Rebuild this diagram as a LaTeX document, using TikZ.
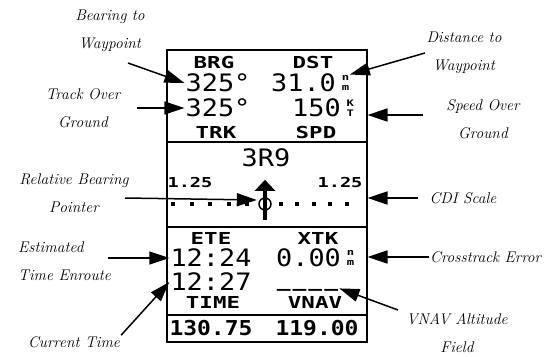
\documentclass[tikz,border=0pt]{standalone}
\usepackage{fontspec}
\newfontfamily\lcdface[FakeStretch=1.12]{DejaVu Sans Mono}
\newfontfamily\lcdwide[FakeStretch=1.36]{DejaVu Sans Mono}
\usetikzlibrary{arrows.meta,positioning}

\begin{document}
\begin{tikzpicture}[x=1pt,y=-1pt,
    lbl/.style={font=\itshape\fontsize{15.5}{28}\selectfont,align=center,inner sep=1pt},
    lcdbig/.style={font=\lcdface\fontsize{24}{24}\selectfont,inner sep=1pt},
    lcdhead/.style={font=\lcdwide\bfseries\fontsize{16.5}{16.5}\selectfont,inner sep=1pt},
    lcdscale/.style={font=\lcdwide\bfseries\fontsize{13.7}{14}\selectfont,inner sep=1pt},
    lcdtotal/.style={font=\lcdface\bfseries\fontsize{20.5}{20.5}\selectfont,inner sep=1pt},
    unitstack/.style={font=\lcdwide\bfseries\fontsize{9}{10.5}\selectfont,align=left,inner sep=0.5pt},
    callout/.style={line width=1.5pt,-{Triangle[length=20pt,width=13pt]}},
    rule/.style={line width=2.2pt}]
  \useasboundingbox (0,0) rectangle (546,356);

  % screen frame
  \node[draw,line width=2pt,minimum width=200pt,minimum height=292pt,inner sep=0pt] (screen) at (266.5,196) {};

  % upper fields
  \node[lcdhead] (brgHead) at (214,62) {BRG};
  \node[lcdhead] (dstHead) at (313,62) {DST};
  \node[lcdbig] (brgVal) at (218,83) {325°};
  \node[lcdbig] (dstVal) at (303.5,83) {31.0};
  \node[unitstack,right=4pt of dstVal] (dstUnit) {n\\m};
  \node[lcdbig] (trkVal) at (218,108) {325°};
  \node[lcdbig] (spdVal) at (316.5,108) {150};
  \node[unitstack,right=4pt of spdVal] (spdUnit) {K\\T};
  \node[lcdhead] (trkHead) at (216,132) {TRK};
  \node[lcdhead] (spdHead) at (316,132) {SPD};
  \draw[rule] (screen.west |- 0,142) -- (screen.east |- 0,142);

  % cdi
  \node[lcdbig] (wptName) at (266,158) {3R9};
  \node[lcdscale] (scaleL) at (190,183) {1.25};
  \node[lcdscale] (scaleR) at (340,183) {1.25};
  \foreach \x in {173,192,210,229,247,281,297,314,330,347}
    \fill (\x-2.3,201.7) rectangle ++(4.6,4.6);
  \node[circle,draw,line width=1.5pt,minimum size=12pt,inner sep=0pt] (cdiCenter) at (265,204) {};
  \node[minimum width=16pt,minimum height=40pt,inner sep=0pt] (pointer) at (265,200) {};
  \draw[line width=4.5pt,-{Triangle[length=11pt,width=20pt]}] (pointer.south) -- (pointer.north);
  \draw[rule] (screen.west |- 0,227) -- (screen.east |- 0,227);

  % lower fields
  \node[lcdhead] (eteHead) at (211,238) {ETE};
  \node[lcdhead] (xtkHead) at (318,238) {XTK};
  \node[lcdbig] (eteVal) at (211,258) {12:24};
  \node[lcdbig] (xtkVal) at (308.5,258) {0.00};
  \node[unitstack,right=4pt of xtkVal] (xtkUnit) {n\\m};
  \node[lcdbig] (timeVal) at (211,282) {12:27};
  \node[lcdtotal,anchor=base] (vnavDash) at (307.5,286) {\_\kern2pt\_\kern2pt\_\kern2pt\_};
  \node[lcdhead] (timeHead) at (213,302) {TIME};
  \node[lcdhead] (vnavHead) at (315,302) {VNAV};
  \draw[rule] (screen.west |- 0,315) -- (screen.east |- 0,315);
  \node[lcdtotal] (timeTotal) at (211,328) {130.75};
  \node[lcdtotal] (vnavTotal) at (317,328) {119.00};

  % labels
  \node[lbl] (brgLbl) at (110,31) {Bearing to\\Waypoint};
  \node[lbl] (trkLbl) at (83,108.5) {Track Over\\Ground};
  \node[lbl] (relLbl) at (74,193.5) {Relative Bearing\\Pointer};
  \node[lbl,align=left,anchor=west] (eteLbl) at (17,261) {Estimated\\Time Enroute};
  \node[lbl] (curLbl) at (74,342) {Current Time};
  \node[lbl] (dstLbl) at (464,52.5) {Distance to\\Waypoint};
  \node[lbl] (spdLbl) at (483,119.5) {Speed Over\\Ground};
  \node[lbl] (cdiLbl) at (463,198) {CDI Scale};
  \node[lbl,anchor=west] (xtkLbl) at (429,257) {Crosstrack Error};
  \node[lbl] (vnavLbl) at (457,333) {VNAV Altitude\\Field};

  % callouts
  \coordinate (brgTail) at (128,63);
  \coordinate (trkTail) at (137,108);
  \coordinate (relTail) at (125,198);
  \coordinate (eteTail) at (108,258);
  \coordinate (dstTail) at (425,53);
  \coordinate (spdTail) at (423,115);
  \coordinate (vnavTail) at (398,310);
  \draw[callout] (brgTail) -- (brgVal.west);
  \draw[callout] (trkTail) -- (trkVal.west);
  \draw[callout] (relTail) -- (pointer.west);
  \draw[callout] (eteTail) -- (eteVal.west);
  \draw[callout] (curLbl.north east) -- (timeVal.west);
  \draw[callout] (dstTail) -- (dstUnit.north east);
  \draw[callout] (spdTail) -- (spdTail -| screen.east);
  \draw[callout,shorten <=10pt] (cdiLbl.west) -- (cdiLbl.west -| screen.east);
  \draw[callout] (xtkLbl.west) -- (xtkLbl.west -| screen.east);
  \draw[callout] (vnavTail) -- (vnavDash.east);
\end{tikzpicture}
\end{document}
